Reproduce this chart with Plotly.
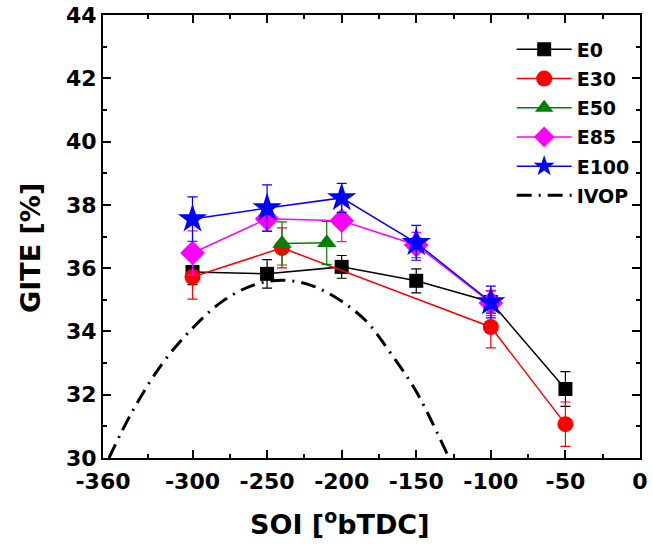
import plotly.graph_objects as go

# ---- data ----
e0_x = [-300, -250, -200, -150, -100, -50]
e0_y = [35.88, 35.82, 36.04, 35.60, 34.93, 32.18]
e0_err = [0.40, 0.45, 0.36, 0.38, 0.35, 0.55]

e30_x = [-300, -240, -100, -50]
e30_y = [35.72, 36.64, 34.14, 31.07]
e30_err = [0.70, 0.63, 0.66, 0.70]

e50_x = [-240, -210]
e50_y = [36.78, 36.80]
e50_err = [0.68, 0.68]

e85_x = [-300, -250, -200, -150, -100]
e85_y = [36.48, 37.56, 37.50, 36.73, 34.90]
e85_err = [0.70, 0.40, 0.66, 0.40, 0.40]

e100_x = [-300, -250, -200, -150, -100]
e100_y = [37.55, 37.90, 38.22, 36.80, 34.93]
e100_err = [0.70, 0.73, 0.46, 0.55, 0.50]

ivop_x = [-356, -340, -320, -300, -280, -260, -240, -220, -200, -183, -170, -150, -130, -128]
ivop_y = [30.0, 31.5, 33.0, 34.1, 34.95, 35.45, 35.62, 35.45, 34.95, 34.3, 33.5, 32.1, 30.2, 30.0]

x_ticks = [-360, -300, -250, -200, -150, -100, -50, 0]
x_minor = [-330, -275, -225, -175, -125, -75, -25]
y_ticks = [30, 32, 34, 36, 38, 40, 42, 44]

FONT = "DejaVu Sans, Liberation Sans, Arial, sans-serif"

fig = go.Figure()

def add(name, x, y, err, color, symbol, size):
    fig.add_trace(go.Scatter(
        x=x, y=y, name=name, mode="lines+markers",
        line=dict(color=color, width=1.5),
        marker=dict(symbol=symbol, size=size, color=color),
        error_y=dict(type="data", array=err, visible=True, color=color,
                     thickness=1.2, width=5),
        legendgroup=name,
    ))

add("E0", e0_x, e0_y, e0_err, "black", "square", 14)
add("E30", e30_x, e30_y, e30_err, "red", "circle", 16)
add("E50", e50_x, e50_y, e50_err, "green", "triangle-up", 17)
add("E85", e85_x, e85_y, e85_err, "magenta", "diamond", 19)
add("E100", e100_x, e100_y, e100_err, "blue", "star", 22)

fig.add_trace(go.Scatter(
    x=ivop_x, y=ivop_y, name="IVOP", mode="lines",
    line=dict(color="black", width=3, dash="15px,7px,2px,7px", shape="spline"),
    legendgroup="IVOP",
))

axis_common = dict(
    showline=True, linecolor="black", linewidth=2, mirror="ticks",
    ticks="inside", ticklen=8, tickwidth=1.5, tickcolor="black",
    showgrid=False, zeroline=False, automargin=False,
    tickfont=dict(family=FONT, size=22, color="black", weight="bold"),
)

fig.update_xaxes(
    range=[-360, 0], tickmode="array", tickvals=x_ticks,
    ticktext=[str(v) for v in x_ticks], ticklabelstandoff=3,
    minor=dict(tickmode="array", tickvals=x_minor, ticks="inside",
               ticklen=4, tickwidth=1.5, tickcolor="black"),
    **axis_common,
)
fig.update_yaxes(
    range=[30, 44], tickmode="array", tickvals=y_ticks,
    minor=dict(dtick=1, ticks="inside", ticklen=4, tickwidth=1.5, tickcolor="black"),
    **axis_common,
)

title_font = dict(family=FONT, size=27, color="black", weight="bold")
fig.add_annotation(text="SOI [<sup>o</sup>bTDC]", xref="paper", yref="paper",
                   x=0.441, y=-0.145, xanchor="center", yanchor="middle",
                   showarrow=False, font=title_font)
fig.add_annotation(text="GITE [%]", xref="paper", yref="paper",
                   x=-0.136, y=0.474, xanchor="center", yanchor="middle",
                   textangle=-90, showarrow=False, font=title_font)

fig.update_layout(
    width=653, height=548,
    margin=dict(l=103, r=13, t=15, b=90),
    paper_bgcolor="white", plot_bgcolor="white",
    showlegend=True,
    legend=dict(x=0.761, y=0.965, xanchor="left", yanchor="top",
                bgcolor="rgba(0,0,0,0)", tracegroupgap=1.5, itemwidth=55,
                font=dict(family=FONT, size=19, color="black", weight="bold")),
)

fig.write_html("out.html")
